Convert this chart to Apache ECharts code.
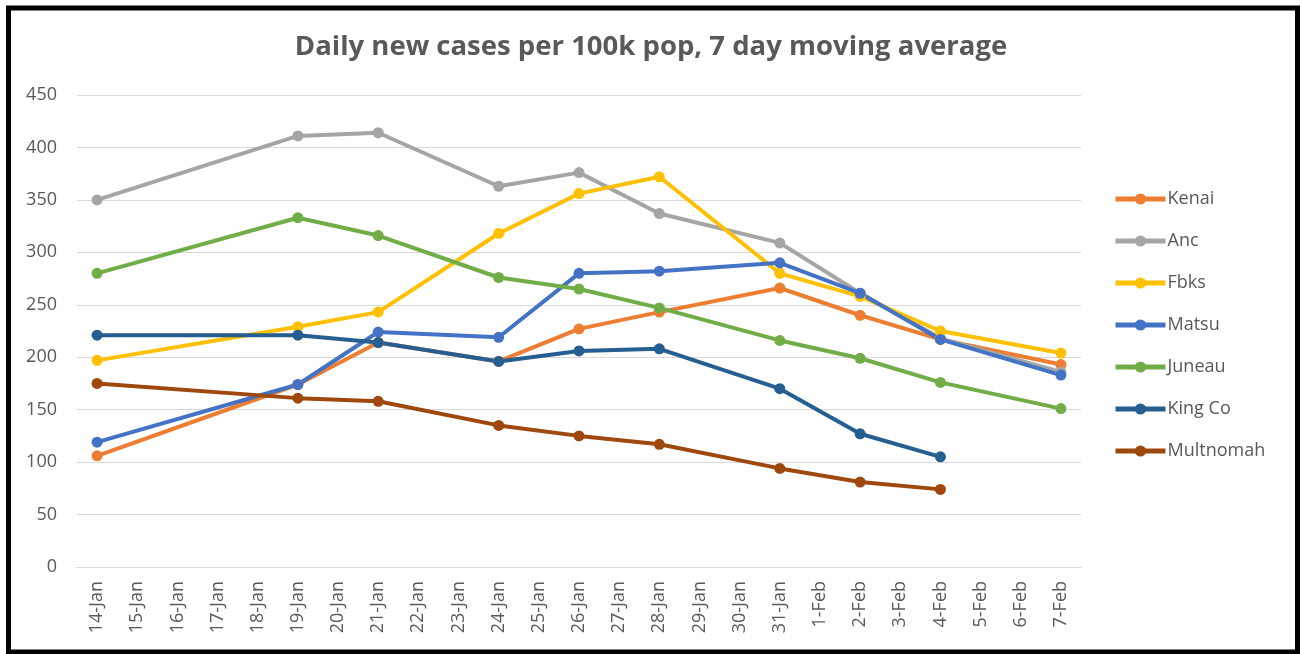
<!DOCTYPE html>
<html>
<head>
<meta charset="utf-8">
<script src="https://cdn.jsdelivr.net/npm/echarts@6/dist/echarts.min.js"></script>
<style>
html,body{margin:0;padding:0;background:#fff;}
#chart{width:1302px;height:654px;}
</style>
</head>
<body>
<div id="chart"></div>
<script>
const categories = ['14-Jan','15-Jan','16-Jan','17-Jan','18-Jan','19-Jan','20-Jan','21-Jan','22-Jan','23-Jan','24-Jan','25-Jan','26-Jan','27-Jan','28-Jan','29-Jan','30-Jan','31-Jan','1-Feb','2-Feb','3-Feb','4-Feb','5-Feb','6-Feb','7-Feb'];
const _ = null;
const kenai     = [106,_,_,_,_,174,_,214,_,_,196,_,227,_,243,_,_,266,_,240,_,217,_,_,193];
const anc       = [350,_,_,_,_,411,_,414,_,_,363,_,376,_,337,_,_,309,_,261,_,218,_,_,186];
const fbks      = [197,_,_,_,_,229,_,243,_,_,318,_,356,_,372,_,_,280,_,258,_,225,_,_,204];
const matsu     = [119,_,_,_,_,174,_,224,_,_,219,_,280,_,282,_,_,290,_,261,_,217,_,_,183];
const juneau    = [280,_,_,_,_,333,_,316,_,_,276,_,265,_,247,_,_,216,_,199,_,176,_,_,151];
const kingCo    = [221,_,_,_,_,221,_,214,_,_,196,_,206,_,208,_,_,170,_,127,_,105,_,_,_];
const multnomah = [175,_,_,_,_,161,_,158,_,_,135,_,125,_,117,_,_,94,_,81,_,74,_,_,_];

const seriesNames = ['Kenai','Anc','Fbks','Matsu','Juneau','King Co','Multnomah'];
const seriesData = [kenai, anc, fbks, matsu, juneau, kingCo, multnomah];
const colors = ['#ED7D31','#A5A5A5','#FFC000','#4472C4','#70AD47','#255E91','#9E480E'];

const chart = echarts.init(document.getElementById('chart'));
chart.setOption({
  animation: false,
  color: colors,
  title: {
    text: 'Daily new cases per 100k pop, 7 day moving average',
    left: 'center', top: 28,
    textStyle: { fontFamily: 'Open Sans', fontWeight: 'bold', fontSize: 27.5, color: '#595959' }
  },
  grid: { left: 77, right: 221, top: 95, bottom: 87 },
  legend: {
    orient: 'vertical', left: 1113, top: 190, padding: 0,
    itemGap: 24, itemWidth: 50, itemHeight: 14,
    lineStyle: { width: 5 },
    textStyle: { fontFamily: 'Open Sans', fontSize: 18, color: '#595959', padding: [0, 0, 0, -3] },
    data: seriesNames
  },
  xAxis: {
    type: 'category', data: categories, boundaryGap: true,
    axisLine: { lineStyle: { color: '#D9D9D9' } },
    axisTick: { show: false },
    axisLabel: { rotate: 90, interval: 0, fontFamily: 'Open Sans', fontSize: 18, color: '#595959', margin: 14 }
  },
  yAxis: {
    type: 'value', min: 0, max: 450, interval: 50,
    axisLine: { show: false }, axisTick: { show: false },
    axisLabel: { fontFamily: 'Open Sans', fontSize: 18, color: '#595959', margin: 20 },
    splitLine: { lineStyle: { color: '#D9D9D9', width: 1 } }
  },
  graphic: [{
    type: 'rect', shape: { x: 8.5, y: 8, width: 1289, height: 644 },
    style: { fill: 'none', stroke: '#000', lineWidth: 5 }, silent: true
  }],
  series: seriesData.map((d, i) => ({
    name: seriesNames[i], type: 'line', data: d, connectNulls: true,
    symbol: 'circle', symbolSize: 11,
    lineStyle: { width: 4 },
    itemStyle: { color: colors[i] }
  }))
});
</script>
</body>
</html>
